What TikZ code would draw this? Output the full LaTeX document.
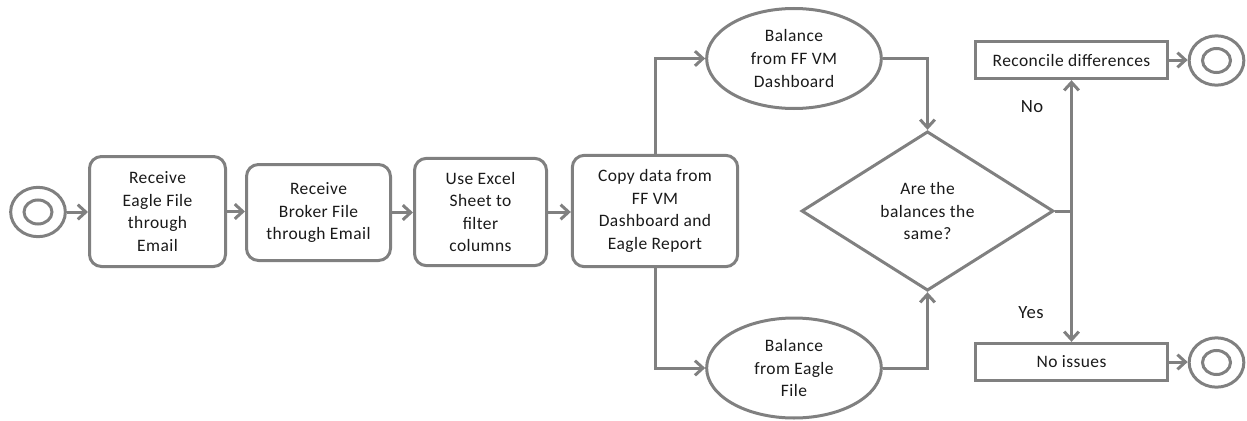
\documentclass[tikz,border=0pt]{standalone}
\usepackage{fontspec}
\setmainfont{Carlito}[LetterSpace=2.5]
\usetikzlibrary{shapes.geometric,arrows.meta}
\definecolor{lg}{HTML}{808080}
\definecolor{tx}{HTML}{1A1A1A}
\begin{document}
\begin{tikzpicture}[x=0.75pt,y=-0.75pt,
  every node/.style={font=\fontsize{13.1}{16.9}\selectfont, text=tx},
  stroke/.style={draw=lg, line width=2.25pt},
  conn/.style={stroke, -{Straight Barb[length=6pt,width=11pt]}},
  proc/.style={stroke, rounded corners=9pt, align=center, inner sep=0pt},
  oval/.style={stroke, ellipse, align=center, inner sep=0pt, minimum width=131pt, minimum height=75pt},
  rbox/.style={stroke, rectangle, align=center, inner sep=0pt, minimum width=144pt, minimum height=28pt},
  evt/.style={stroke, ellipse, inner sep=0pt, minimum width=41pt, minimum height=37pt},
  lbl/.style={inner sep=0pt}
]
\useasboundingbox (0,0) rectangle (1247,421);

\node[evt] (start) at (38,212) {};
\draw[stroke] (start.center) ellipse [x radius=10.5pt, y radius=9pt];

\node[proc, minimum width=102pt, minimum height=82.5pt] (b1) at (157.5,211.5) {Receive\\Eagle File\\through\\Email};
\node[proc, minimum width=108pt, minimum height=72pt] (b2) at (318.5,212.5) {Receive\\Broker File\\through Email};
\node[proc, minimum width=99pt, minimum height=80.5pt] (b3) at (480.5,212) {Use Excel\\Sheet to\\filter\\columns};
\node[proc, minimum width=124pt, minimum height=83.5pt] (b4) at (655,211) {Copy data from\\FF VM\\Dashboard and\\Eagle Report};

\node[oval] (e1) at (794,58.5) {Balance\\from FF VM\\Dashboard};
\node[oval] (e2) at (794,368) {Balance\\from Eagle\\File};

\node[stroke, diamond, aspect=1.57, inner sep=0pt, align=center, minimum width=189pt, minimum height=119.5pt] (d) at (927.5,211) {Are the\\balances the\\same?};

\node[rbox] (rec) at (1071.5,60) {Reconcile differences};
\node[rbox] (ok) at (1071.5,362) {No issues};

\node[evt] (end1) at (1216.5,60.5) {};
\draw[stroke] (end1.center) ellipse [x radius=10.5pt, y radius=9pt];
\node[evt] (end2) at (1216.5,362.5) {};
\draw[stroke] (end2.center) ellipse [x radius=10.5pt, y radius=9pt];

\coordinate (j) at (d.east -| rec.south);

\draw[conn] (start.east) -- (start.east -| b1.west);
\draw[conn] (b1.east) -- (b1.east -| b2.west);
\draw[conn] (b2.east) -- (b2.east -| b3.west);
\draw[conn] (b3.east) -- (b3.east -| b4.west);
\draw[conn] (b4.north) |- (e1.west);
\draw[conn] (b4.south) |- (e2.west);
\draw[conn] (e1.east) -| (d.north);
\draw[conn] (e2.east) -| (d.south);
\draw[stroke] (d.east) -- (j);
\draw[conn] (j) -- (rec.south);
\draw[conn] (j) -- (ok.north);
\draw[conn] (rec.east) -- (rec.east -| end1.west);
\draw[conn] (ok.east) -- (ok.east -| end2.west);

\node[lbl, font=\fontsize{14}{16.9}\selectfont] (no) at (1032,107) {No};
\node[lbl, font=\fontsize{14}{16.9}\selectfont] (yes) at (1031,313) {Yes};
\end{tikzpicture}
\end{document}
